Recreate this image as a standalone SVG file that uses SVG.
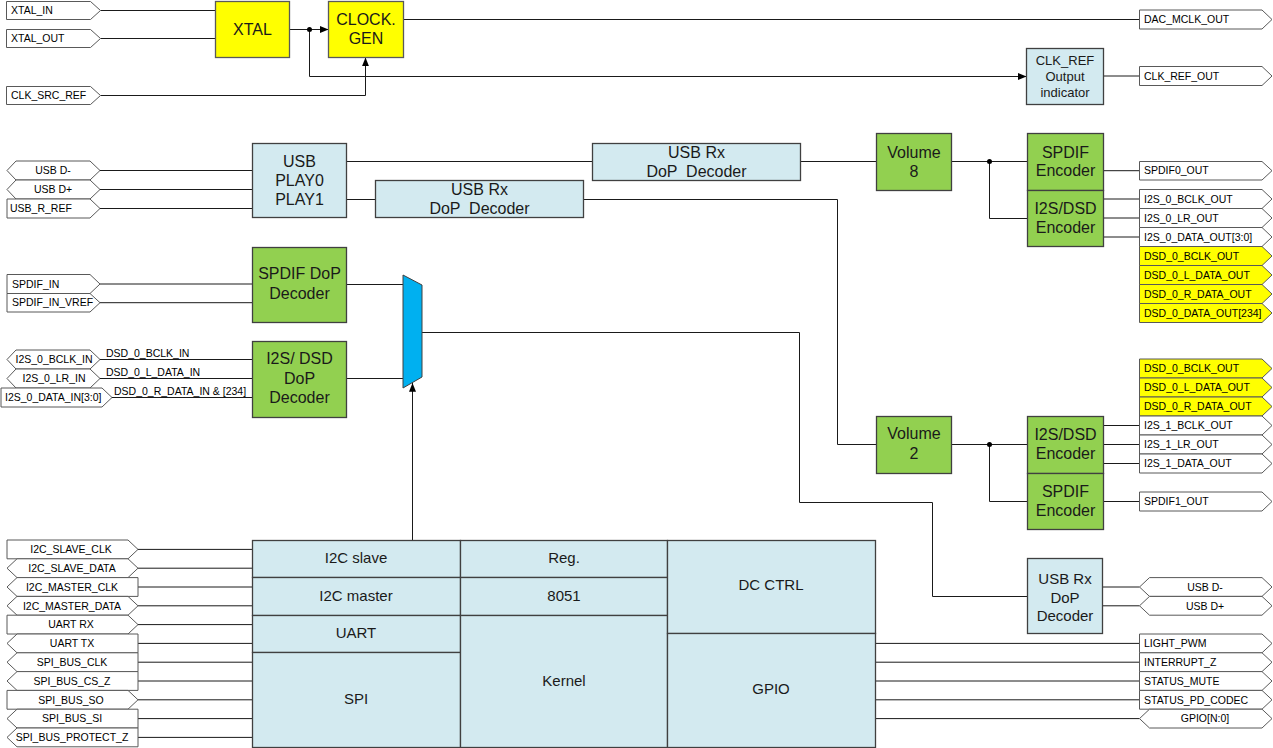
<svg xmlns="http://www.w3.org/2000/svg" width="1273" height="748" viewBox="0 0 1273 748">
<defs>
<style>
.lbl{fill:#fff;stroke:#595959;stroke-width:1}
.lbly{fill:#ffff00;stroke:#595959;stroke-width:1}
.t{font-family:"Liberation Sans",Arial,sans-serif;font-size:10.5px;fill:#000}
.tc{font-family:"Liberation Sans",Arial,sans-serif;font-size:10.5px;fill:#000;text-anchor:middle}
.bt{font-family:"Liberation Sans",Arial,sans-serif;font-size:16px;fill:#1a1a1a;text-anchor:middle}
.bt13{font-family:"Liberation Sans",Arial,sans-serif;font-size:13px;fill:#1a1a1a;text-anchor:middle}
.bt15{font-family:"Liberation Sans",Arial,sans-serif;font-size:15px;fill:#1a1a1a;text-anchor:middle}
.yel{fill:#ffff00;stroke:#595959;stroke-width:1.3}
.grn{fill:#92d050;stroke:#404040;stroke-width:1.3}
.blu{fill:#d3eaf0;stroke:#404040;stroke-width:1.3}
.mux{fill:#00b0f0;stroke:#404040;stroke-width:1}
.w{fill:none;stroke:#1a1a1a;stroke-width:1}
.dot{fill:#000}
</style>
<marker id="arr" viewBox="0 0 10 8" refX="10" refY="4" markerWidth="9" markerHeight="7" orient="auto" markerUnits="userSpaceOnUse"><path d="M0,0 L10,4 L0,8 Z" fill="#000"/></marker>
</defs>
<rect width="1273" height="748" fill="#fff"/>

<g id="connectors">
<path class="w" d="M100.5,10.5 H215.5"/>
<path class="w" d="M100.5,38.5 H215.5"/>
<path class="w" d="M289.5,29.5 H328.5" marker-end="url(#arr)"/>
<path class="w" d="M309.5,29.5 V76.5 H1026.5" marker-end="url(#arr)"/>
<path class="w" d="M100.5,95.5 H365.5 V57.5" marker-end="url(#arr)"/>
<path class="w" d="M403.5,19.5 H1139.5"/>
<path class="w" d="M1103.5,76 H1139.5"/>
<path class="w" d="M100,170.5 H252"/>
<path class="w" d="M100,189.5 H252"/>
<path class="w" d="M100,208.5 H252"/>
<path class="w" d="M346,161.5 H592"/>
<path class="w" d="M800,161.5 H876"/>
<path class="w" d="M951,161.5 H1027"/>
<path class="w" d="M989.5,161.5 V218.5 H1027"/>
<path class="w" d="M346,199.5 H375"/>
<path class="w" d="M583,199.5 H837.5 V444.5 H876"/>
<path class="w" d="M951,444.5 H1027"/>
<path class="w" d="M989.5,444.5 V501.5 H1027"/>
<path class="w" d="M1103,170.7 H1139.5"/>
<path class="w" d="M1103,199 H1139.5"/>
<path class="w" d="M1103,218 H1139.5"/>
<path class="w" d="M1103,237 H1139.5"/>
<path class="w" d="M1103,425.5 H1139.5"/>
<path class="w" d="M1103,444.5 H1139.5"/>
<path class="w" d="M1103,463.5 H1139.5"/>
<path class="w" d="M1103,501.5 H1139.5"/>
<path class="w" d="M100,284 H252"/>
<path class="w" d="M100,302.7 H252"/>
<path class="w" d="M100,359.5 H252"/>
<path class="w" d="M100,378.5 H252"/>
<path class="w" d="M112,397.5 H252"/>
<path class="w" d="M347,284.5 H403"/>
<path class="w" d="M347,378.5 H403"/>
<path class="w" d="M422,332.5 H799.5 V502.5 H932.5 V596.5 H1027"/>
<path class="w" d="M412.5,540 V383" marker-end="url(#arr)"/>
<path class="w" d="M1102.5,587 H1139.5"/>
<path class="w" d="M1102.5,605.8 H1139.5"/>
<path class="w" d="M875,643.4 H1139.5"/>
<path class="w" d="M875,662.2 H1139.5"/>
<path class="w" d="M875,681 H1139.5"/>
<path class="w" d="M875,699.8 H1139.5"/>
<path class="w" d="M875,718.6 H1139.5"/>
<path class="w" d="M138,549.4 H252"/>
<path class="w" d="M138,568.2 H252"/>
<path class="w" d="M138,587 H252"/>
<path class="w" d="M138,605.8 H252"/>
<path class="w" d="M138,624.6 H252"/>
<path class="w" d="M138,643.4 H252"/>
<path class="w" d="M138,662.2 H252"/>
<path class="w" d="M138,681 H252"/>
<path class="w" d="M138,699.8 H252"/>
<path class="w" d="M138,718.6 H252"/>
<path class="w" d="M138,737.4 H252"/>
<circle class="dot" cx="309.5" cy="29.5" r="2.5"/>
<circle class="dot" cx="989.5" cy="161.5" r="2.5"/>
<circle class="dot" cx="989.5" cy="444.5" r="2.5"/>
<text class="t" x="106" y="357">DSD_0_BCLK_IN</text>
<text class="t" x="106" y="376">DSD_0_L_DATA_IN</text>
<text class="t" x="114" y="395">DSD_0_R_DATA_IN &amp; [234]</text>
</g>

<!-- Blocks -->
<g id="xtal"><rect class="yel" x="215.5" y="1.5" width="74" height="56"/><text class="bt" x="252.5" y="35">XTAL</text></g>
<g id="clockgen"><rect class="yel" x="328.5" y="1.5" width="75" height="56"/><text class="bt" x="366" y="25">CLOCK.</text><text class="bt" x="366" y="44">GEN</text></g>
<g id="clkref"><rect class="blu" x="1026.5" y="48.5" width="77" height="56"/><text class="bt13" x="1065" y="64.5">CLK_REF</text><text class="bt13" x="1065" y="80.5">Output</text><text class="bt13" x="1065" y="96.5">indicator</text></g>
<g id="usb"><rect class="blu" x="252.5" y="143.5" width="94" height="74"/><text class="bt" x="299.5" y="167">USB</text><text class="bt" x="299.5" y="186">PLAY0</text><text class="bt" x="299.5" y="205">PLAY1</text></g>
<g id="usbrx1"><rect class="blu" x="592.5" y="143.5" width="208" height="37"/><text class="bt" x="696.5" y="157.5">USB Rx</text><text class="bt" x="696.5" y="176.5" xml:space="preserve">DoP  Decoder</text></g>
<g id="usbrx2"><rect class="blu" x="375.5" y="180.5" width="208" height="37"/><text class="bt" x="479.5" y="195">USB Rx</text><text class="bt" x="479.5" y="214" xml:space="preserve">DoP  Decoder</text></g>
<g id="volume8"><rect class="grn" x="876.5" y="133.5" width="75" height="57"/><text class="bt" x="914" y="157.5">Volume</text><text class="bt" x="914" y="176.5">8</text></g>
<g id="spdifenc0"><rect class="grn" x="1027.5" y="133.5" width="76" height="57"/><text class="bt" x="1065.5" y="157.5">SPDIF</text><text class="bt" x="1065.5" y="176">Encoder</text></g>
<g id="i2senc0"><rect class="grn" x="1027.5" y="190.5" width="76" height="56"/><text class="bt" x="1065.5" y="213.5">I2S/DSD</text><text class="bt" x="1065.5" y="232.5">Encoder</text></g>
<g id="spdifdec"><rect class="grn" x="252.5" y="247.5" width="94" height="75"/><text class="bt" x="299.5" y="278.5">SPDIF DoP</text><text class="bt" x="299.5" y="298.5">Decoder</text></g>
<g id="i2sdec"><rect class="grn" x="252.5" y="341.5" width="94" height="76"/><text class="bt" x="299.5" y="363.5">I2S/ DSD</text><text class="bt" x="299.5" y="383.5">DoP</text><text class="bt" x="299.5" y="402.5">Decoder</text></g>
<g id="mux"><polygon class="mux" points="403,275 422,285 422,377 403,388"/></g>
<g id="volume2"><rect class="grn" x="876.5" y="416.5" width="75" height="57"/><text class="bt" x="914" y="438.5">Volume</text><text class="bt" x="914" y="458.5">2</text></g>
<g id="i2senc1"><rect class="grn" x="1027.5" y="416.5" width="76" height="57"/><text class="bt" x="1065.5" y="439.5">I2S/DSD</text><text class="bt" x="1065.5" y="458.5">Encoder</text></g>
<g id="spdifenc1"><rect class="grn" x="1027.5" y="473.5" width="76" height="56"/><text class="bt" x="1065.5" y="496.5">SPDIF</text><text class="bt" x="1065.5" y="515.5">Encoder</text></g>
<g id="usbrx3"><rect class="blu" x="1027.5" y="558.5" width="75" height="75"/><text class="bt15" x="1065" y="583.5">USB Rx</text><text class="bt15" x="1065" y="602.5">DoP</text><text class="bt15" x="1065" y="621">Decoder</text></g>
<g id="mcu">
<rect class="blu" x="252.5" y="540.5" width="208" height="37"/><text class="bt15" x="356" y="563">I2C slave</text>
<rect class="blu" x="252.5" y="577.5" width="208" height="38"/><text class="bt15" x="356" y="601">I2C master</text>
<rect class="blu" x="252.5" y="615.5" width="208" height="37"/><text class="bt15" x="356" y="638">UART</text>
<rect class="blu" x="252.5" y="652.5" width="208" height="95"/><text class="bt15" x="356" y="704">SPI</text>
<rect class="blu" x="460.5" y="540.5" width="207" height="37"/><text class="bt15" x="564" y="563">Reg.</text>
<rect class="blu" x="460.5" y="577.5" width="207" height="38"/><text class="bt15" x="564" y="601">8051</text>
<rect class="blu" x="460.5" y="615.5" width="207" height="132"/><text class="bt15" x="564" y="686">Kernel</text>
<rect class="blu" x="667.5" y="540.5" width="208" height="93"/><text class="bt15" x="771" y="590">DC CTRL</text>
<rect class="blu" x="667.5" y="633.5" width="208" height="114"/><text class="bt15" x="771" y="694">GPIO</text>
</g>

<!-- Left labels -->
<g id="l_xtal_in"><path class="lbl" d="M6.5,1.5 H90.5 L100.5,10.5 L90.5,19.5 H6.5 Z"/><text class="t" x="11" y="14.2">XTAL_IN</text></g>
<g id="l_xtal_out"><path class="lbl" d="M6.5,29.5 H90.5 L100.5,38.5 L90.5,47.5 H6.5 Z"/><text class="t" x="11" y="42.2">XTAL_OUT</text></g>
<g id="l_clk_src_ref"><path class="lbl" d="M6.5,86.5 H90.5 L100.5,95.5 L90.5,104.5 H6.5 Z"/><text class="t" x="11" y="99.2">CLK_SRC_REF</text></g>
<g id="l_usb_dm"><path class="lbl" d="M16,161 H90 L100,170.5 L90,180 H16 L7,170.5 Z"/><text class="tc" x="53" y="174.2">USB D-</text></g>
<g id="l_usb_dp"><path class="lbl" d="M16,180 H90 L100,189.5 L90,199 H16 L7,189.5 Z"/><text class="tc" x="53" y="193.2">USB D+</text></g>
<g id="l_usb_r_ref"><path class="lbl" d="M7,199 H90 L100,208.5 L90,218 H7 Z"/><text class="t" x="10" y="212.2">USB_R_REF</text></g>
<g id="l_spdif_in"><path class="lbl" d="M7,274.5 H90 L100,284 L90,293.5 H7 Z"/><text class="t" x="12" y="287.7">SPDIF_IN</text></g>
<g id="l_spdif_in_vref"><path class="lbl" d="M7,293.5 H90 L100,302.7 L90,312 H7 Z"/><text class="t" x="12" y="306.4">SPDIF_IN_VREF</text></g>
<g id="l_i2s_bclk_in"><path class="lbl" d="M16,350 H90 L100,359.5 L90,369 H16 L7,359.5 Z"/><text class="tc" x="54" y="363.2">I2S_0_BCLK_IN</text></g>
<g id="l_i2s_lr_in"><path class="lbl" d="M16,369 H90 L100,378.5 L90,388 H16 L7,378.5 Z"/><text class="tc" x="54" y="382.2">I2S_0_LR_IN</text></g>
<g id="l_i2s_data_in"><path class="lbl" d="M1,388 H102 L112,397.5 L102,407 H1 Z"/><text class="t" x="5" y="401.2">I2S_0_DATA_IN[3:0]</text></g>

<g id="l_i2c_slave_clk"><path class="lbl" d="M7,540 H128 L138,549.4 L128,558.8 H7 Z"/><text class="tc" x="71" y="553.1">I2C_SLAVE_CLK</text></g>
<g id="l_i2c_slave_data"><path class="lbl" d="M17,558.8 H128 L138,568.2 L128,577.6 H17 L7,568.2 Z"/><text class="tc" x="72" y="571.9">I2C_SLAVE_DATA</text></g>
<g id="l_i2c_master_clk"><path class="lbl" d="M17,577.6 H138 V596.4 H17 L7,587 Z"/><text class="tc" x="72" y="590.7">I2C_MASTER_CLK</text></g>
<g id="l_i2c_master_data"><path class="lbl" d="M17,596.4 H128 L138,605.8 L128,615.2 H17 L7,605.8 Z"/><text class="tc" x="72" y="609.5">I2C_MASTER_DATA</text></g>
<g id="l_uart_rx"><path class="lbl" d="M7,615.2 H128 L138,624.6 L128,634 H7 Z"/><text class="tc" x="71" y="628.3">UART RX</text></g>
<g id="l_uart_tx"><path class="lbl" d="M17,634 H138 V652.8 H17 L7,643.4 Z"/><text class="tc" x="72" y="647.1">UART TX</text></g>
<g id="l_spi_clk"><path class="lbl" d="M17,652.8 H138 V671.6 H17 L7,662.2 Z"/><text class="tc" x="72" y="665.9">SPI_BUS_CLK</text></g>
<g id="l_spi_cs"><path class="lbl" d="M17,671.6 H138 V690.4 H17 L7,681 Z"/><text class="tc" x="72" y="684.7">SPI_BUS_CS_Z</text></g>
<g id="l_spi_so"><path class="lbl" d="M7,690.4 H128 L138,699.8 L128,709.2 H7 Z"/><text class="tc" x="71" y="703.5">SPI_BUS_SO</text></g>
<g id="l_spi_si"><path class="lbl" d="M17,709.2 H138 V728 H17 L7,718.6 Z"/><text class="tc" x="72" y="722.3">SPI_BUS_SI</text></g>
<g id="l_spi_protect"><path class="lbl" d="M17,728 H138 V746.8 H17 L7,737.4 Z"/><text class="tc" x="72" y="741.1">SPI_BUS_PROTECT_Z</text></g>

<!-- Right labels -->
<g id="r_dac_mclk"><path class="lbl" d="M1139.5,10 H1262 L1272,19.5 L1262,29 H1139.5 Z"/><text class="t" x="1144" y="23.2">DAC_MCLK_OUT</text></g>
<g id="r_clk_ref_out"><path class="lbl" d="M1139.5,66.5 H1262 L1272,76 L1262,85.5 H1139.5 Z"/><text class="t" x="1144" y="79.7">CLK_REF_OUT</text></g>
<g id="r_spdif0"><path class="lbl" d="M1139.5,161.5 H1262 L1272,170.7 L1262,180 H1139.5 Z"/><text class="t" x="1144" y="174.4">SPDIF0_OUT</text></g>
<g id="r_i2s0_bclk"><path class="lbl" d="M1139.5,189.5 H1262 L1272,199 L1262,208.5 H1139.5 Z"/><text class="t" x="1144" y="202.7">I2S_0_BCLK_OUT</text></g>
<g id="r_i2s0_lr"><path class="lbl" d="M1139.5,208.5 H1262 L1272,218 L1262,227.5 H1139.5 Z"/><text class="t" x="1144" y="221.7">I2S_0_LR_OUT</text></g>
<g id="r_i2s0_data"><path class="lbl" d="M1139.5,227.5 H1262 L1272,237 L1262,246.5 H1139.5 Z"/><text class="t" x="1144" y="240.7">I2S_0_DATA_OUT[3:0]</text></g>
<g id="r_dsd0_bclk_a"><path class="lbly" d="M1139.5,246.5 H1262 L1272,256 L1262,265.5 H1139.5 Z"/><text class="t" x="1144" y="259.7">DSD_0_BCLK_OUT</text></g>
<g id="r_dsd0_l_a"><path class="lbly" d="M1139.5,265.5 H1262 L1272,275 L1262,284.5 H1139.5 Z"/><text class="t" x="1144" y="278.7">DSD_0_L_DATA_OUT</text></g>
<g id="r_dsd0_r_a"><path class="lbly" d="M1139.5,284.5 H1262 L1272,294 L1262,303.5 H1139.5 Z"/><text class="t" x="1144" y="297.7">DSD_0_R_DATA_OUT</text></g>
<g id="r_dsd0_data"><path class="lbly" d="M1139.5,303.5 H1262 L1272,313 L1262,322.5 H1139.5 Z"/><text class="t" x="1144" y="316.7">DSD_0_DATA_OUT[234]</text></g>
<g id="r_dsd0_bclk_b"><path class="lbly" d="M1139.5,359 H1262 L1272,368.5 L1262,378 H1139.5 Z"/><text class="t" x="1144" y="372.2">DSD_0_BCLK_OUT</text></g>
<g id="r_dsd0_l_b"><path class="lbly" d="M1139.5,378 H1262 L1272,387.5 L1262,397 H1139.5 Z"/><text class="t" x="1144" y="391.2">DSD_0_L_DATA_OUT</text></g>
<g id="r_dsd0_r_b"><path class="lbly" d="M1139.5,397 H1262 L1272,406.5 L1262,416 H1139.5 Z"/><text class="t" x="1144" y="410.2">DSD_0_R_DATA_OUT</text></g>
<g id="r_i2s1_bclk"><path class="lbl" d="M1139.5,416 H1262 L1272,425.5 L1262,435 H1139.5 Z"/><text class="t" x="1144" y="429.2">I2S_1_BCLK_OUT</text></g>
<g id="r_i2s1_lr"><path class="lbl" d="M1139.5,435 H1262 L1272,444.5 L1262,454 H1139.5 Z"/><text class="t" x="1144" y="448.2">I2S_1_LR_OUT</text></g>
<g id="r_i2s1_data"><path class="lbl" d="M1139.5,454 H1262 L1272,463.5 L1262,473 H1139.5 Z"/><text class="t" x="1144" y="467.2">I2S_1_DATA_OUT</text></g>
<g id="r_spdif1"><path class="lbl" d="M1139.5,492 H1262 L1272,501.5 L1262,511 H1139.5 Z"/><text class="t" x="1144" y="505.2">SPDIF1_OUT</text></g>
<g id="r_usb_dm"><path class="lbl" d="M1149.5,577.6 H1262 L1272,587 L1262,596.4 H1149.5 L1139.5,587 Z"/><text class="tc" x="1205" y="590.7">USB D-</text></g>
<g id="r_usb_dp"><path class="lbl" d="M1149.5,596.4 H1262 L1272,605.8 L1262,615.2 H1149.5 L1139.5,605.8 Z"/><text class="tc" x="1205" y="609.5">USB D+</text></g>
<g id="r_light_pwm"><path class="lbl" d="M1139.5,634 H1262 L1272,643.4 L1262,652.8 H1139.5 Z"/><text class="t" x="1144" y="647.1">LIGHT_PWM</text></g>
<g id="r_interrupt"><path class="lbl" d="M1139.5,652.8 H1262 L1272,662.2 L1262,671.6 H1139.5 Z"/><text class="t" x="1144" y="665.9">INTERRUPT_Z</text></g>
<g id="r_status_mute"><path class="lbl" d="M1139.5,671.6 H1262 L1272,681 L1262,690.4 H1139.5 Z"/><text class="t" x="1144" y="684.7">STATUS_MUTE</text></g>
<g id="r_status_pd"><path class="lbl" d="M1139.5,690.4 H1262 L1272,699.8 L1262,709.2 H1139.5 Z"/><text class="t" x="1144" y="703.5">STATUS_PD_CODEC</text></g>
<g id="r_gpio"><path class="lbl" d="M1149.5,709.2 H1262 L1272,718.6 L1262,728 H1149.5 L1139.5,718.6 Z"/><text class="tc" x="1205" y="722.3">GPIO[N:0]</text></g>
</svg>
